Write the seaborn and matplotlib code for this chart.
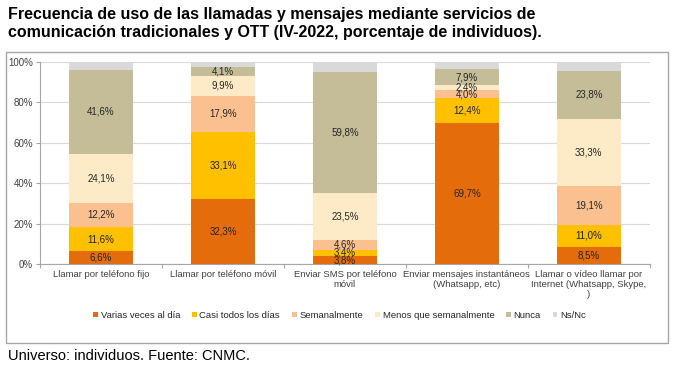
import numpy as np
import pandas as pd
import matplotlib
matplotlib.use("Agg")
import matplotlib.pyplot as plt
from matplotlib.patches import Rectangle
import seaborn as sns

categories = [
    "Llamar por teléfono fijo",
    "Llamar por teléfono móvil",
    "Enviar SMS por teléfono\nmóvil",
    "Enviar mensajes instantáneos\n(Whatsapp, etc)",
    "Llamar o vídeo llamar por\nInternet (Whatsapp, Skype,\n)",
]
series_names = ["Varias veces al día", "Casi todos los días", "Semanalmente",
                "Menos que semanalmente", "Nunca", "Ns/Nc"]
varias = [6.6, 32.3, 3.8, 69.7, 8.5]
casi = [11.6, 33.1, 3.4, 12.4, 11.0]
semanal = [12.2, 17.9, 4.6, 4.0, 19.1]
menos = [24.1, 9.9, 23.5, 2.4, 33.3]
nunca = [41.6, 4.1, 59.8, 7.9, 23.8]
nsnc = [3.9, 2.7, 4.9, 3.6, 4.3]
colors = ["#E46C0A", "#FFC000", "#FAC090", "#FCEBC6", "#C4BD97", "#D9D9D9"]

series = [varias, casi, semanal, menos, nunca, nsnc]
vals = np.array(series)
cum = np.cumsum(vals, axis=0)

sns.set_theme(style="white")
plt.rcParams["font.family"] = ["Liberation Sans", "DejaVu Sans"]

fig = plt.figure(figsize=(6.79, 3.73), dpi=100)
ax = fig.add_axes([0.059, 0.292, 0.898, 0.542])

# stacked via cumulative totals drawn from top to bottom
for i in range(len(series) - 1, -1, -1):
    df = pd.DataFrame({"cat": categories, "val": cum[i]})
    sns.barplot(data=df, x="cat", y="val", color=colors[i], width=0.52,
                saturation=1, ax=ax, label=series_names[i], zorder=2,
                linewidth=0)
if ax.get_legend() is not None:
    ax.get_legend().remove()

# data labels (not for Ns/Nc)
for i in range(len(series) - 1):
    for j in range(len(categories)):
        bottom = cum[i][j] - vals[i][j]
        ax.text(j, bottom + vals[i][j] / 2, f"{vals[i][j]:.1f}%".replace(".", ","),
                ha="center", va="center", fontsize=7, color="#262626", zorder=3)

ax.set_ylim(0, 100)
ax.set_xlim(-0.5, len(categories) - 0.5)
ax.set_yticks(np.arange(0, 101, 20))
ax.set_yticklabels([f"{v}%" for v in range(0, 101, 20)])
ax.yaxis.grid(True, color="#D9D9D9", linewidth=0.8, zorder=0)
ax.set_axisbelow(True)
ax.set_xlabel("")
ax.set_ylabel("")
for s in ["top", "right"]:
    ax.spines[s].set_visible(False)
for s in ["left", "bottom"]:
    ax.spines[s].set_color("#A6A6A6")
    ax.spines[s].set_linewidth(0.8)
ax.tick_params(axis="y", labelsize=7, length=3, width=0.8,
               direction="out", left=True, pad=2, colors="#A6A6A6", labelcolor="#404040")
ax.set_xticks(np.arange(-0.5, len(categories), 1), minor=True)
ax.tick_params(axis="x", which="major", length=0, labelsize=6.8, labelcolor="#404040", pad=4)
ax.tick_params(axis="x", which="minor", length=3, width=0.8, color="#A6A6A6",
               direction="out", bottom=True)

# legend
handles, labels = ax.get_legend_handles_labels()
order = [labels.index(n) for n in series_names]
fig.legend([handles[k] for k in order], [labels[k] for k in order],
           loc="center", bbox_to_anchor=(0.5, 0.155), ncol=6, frameon=False,
           fontsize=6.8, handlelength=0.5, handleheight=0.5, handletextpad=0.3,
           columnspacing=1.25, labelcolor="#262626")

fig.text(0.012, 0.98, "Frecuencia de uso de las llamadas y mensajes mediante servicios de\n"
         "comunicación tradicionales y OTT (IV-2022, porcentaje de individuos).",
         ha="left", va="top", fontsize=11.5, fontweight="bold", color="black",
         linespacing=1.25)
fig.text(0.012, 0.045, "Universo: individuos. Fuente: CNMC.", ha="left", va="center",
         fontsize=10.5, color="black")

fig.patches.append(Rectangle((0.009, 0.08), 0.975, 0.78, transform=fig.transFigure,
                             fill=False, edgecolor="#A6A6A6", linewidth=1))

fig.savefig("out.png", dpi=100)
